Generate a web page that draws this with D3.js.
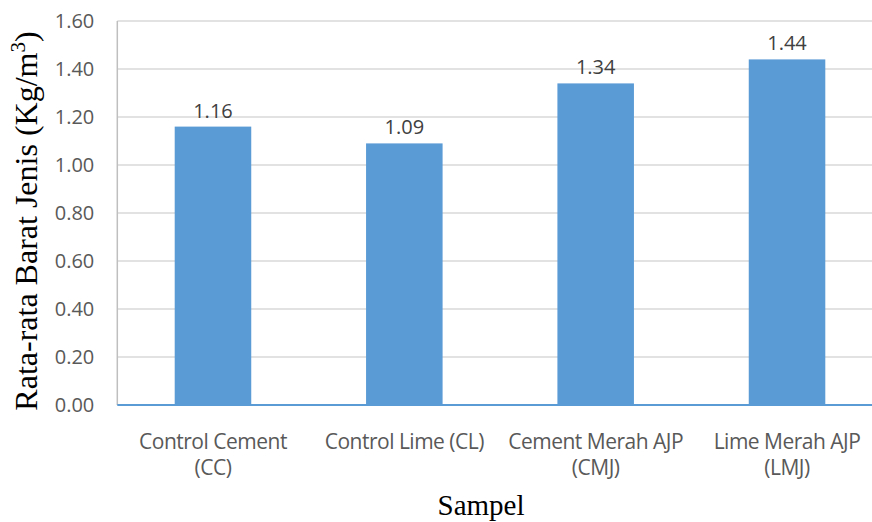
<!DOCTYPE html>
<html>
<head>
<meta charset="utf-8">
<script src="https://cdn.jsdelivr.net/npm/d3@7"></script>
<style>
  html, body { margin: 0; padding: 0; background: #fff; }
  svg { display: block; }
</style>
</head>
<body>
<svg id="chart" width="872" height="522"></svg>
<script>
// Sample groups, two-line axis labels, and average density values
const categories = ["CC", "CL", "CMJ", "LMJ"];
const categoryLabels = [
  ["Control Cement", "(CC)"],
  ["Control Lime (CL)"],
  ["Cement Merah AJP", "(CMJ)"],
  ["Lime Merah AJP", "(LMJ)"]
];
const values = [1.16, 1.09, 1.34, 1.44];
const yTicks = [0, 0.2, 0.4, 0.6, 0.8, 1.0, 1.2, 1.4, 1.6];

const svg = d3.select("#chart");
const plotLeft = 117.3, plotRight = 882.7, plotTop = 21, plotBottom = 405;

const x = d3.scaleBand()
  .domain(categories)
  .range([plotLeft, plotRight])
  .paddingInner(0.6)
  .paddingOuter(0.3);

const y = d3.scaleLinear().domain([0, 1.6]).range([plotBottom, plotTop]);

// Horizontal gridlines
svg.append("g")
  .selectAll("line")
  .data(yTicks.filter(d => d > 0))
  .join("line")
  .attr("x1", plotLeft).attr("x2", 872)
  .attr("y1", d => y(d)).attr("y2", d => y(d))
  .attr("stroke", "#d9d9d9")
  .attr("stroke-width", 1.5);

// Value axis (labels only, plus grey spine)
const yAxis = svg.append("g")
  .attr("transform", `translate(${plotLeft},0)`)
  .call(d3.axisLeft(y).tickValues(yTicks).tickFormat(d3.format(".2f")).tickSize(0).tickPadding(23));
yAxis.select(".domain").remove();
yAxis.selectAll("text")
  .attr("font-family", "'Open Sans', sans-serif")
  .attr("font-size", 20)
  .attr("fill", "#595959");

svg.append("line")
  .attr("x1", plotLeft).attr("x2", plotLeft)
  .attr("y1", plotTop).attr("y2", plotBottom)
  .attr("stroke", "#bfbfbf")
  .attr("stroke-width", 1.5);

// Bars
svg.append("g")
  .selectAll("rect")
  .data(values)
  .join("rect")
  .attr("x", (d, i) => x(categories[i]))
  .attr("y", d => y(d))
  .attr("width", x.bandwidth())
  .attr("height", d => y(0) - y(d))
  .attr("fill", "#5b9bd5");

// Category axis line
svg.append("line")
  .attr("x1", plotLeft).attr("x2", 872)
  .attr("y1", y(0)).attr("y2", y(0))
  .attr("stroke", "#5b9bd5")
  .attr("stroke-width", 2);

// Data labels
svg.append("g")
  .selectAll("text")
  .data(values)
  .join("text")
  .attr("x", (d, i) => x(categories[i]) + x.bandwidth() / 2)
  .attr("y", d => y(d) - 9)
  .attr("text-anchor", "middle")
  .attr("font-family", "'Open Sans', sans-serif")
  .attr("font-size", 20)
  .attr("fill", "#404040")
  .text(d => d3.format(".2f")(d));

// Category labels
const catG = svg.append("g")
  .selectAll("text")
  .data(categories)
  .join("text")
  .attr("x", d => x(d) + x.bandwidth() / 2)
  .attr("y", 449)
  .attr("text-anchor", "middle")
  .attr("font-family", "'Open Sans', sans-serif")
  .attr("font-size", 21)
  .attr("letter-spacing", -0.5)
  .attr("fill", "#595959");
catG.each(function(d, i) {
  const t = d3.select(this);
  categoryLabels[i].forEach((line, j) => {
    t.append("tspan")
      .attr("x", x(d) + x.bandwidth() / 2)
      .attr("dy", j === 0 ? 0 : 26)
      .text(line);
  });
});

// Axis titles
svg.append("text")
  .attr("x", 481)
  .attr("y", 515)
  .attr("text-anchor", "middle")
  .attr("font-family", "'Liberation Serif', 'Times New Roman', serif")
  .attr("font-size", 29)
  .attr("fill", "#000")
  .text("Sampel");

const yTitle = svg.append("text")
  .attr("transform", "translate(37,221) rotate(-90)")
  .attr("text-anchor", "middle")
  .attr("font-family", "'Liberation Serif', 'Times New Roman', serif")
  .attr("font-size", 32)
  .attr("fill", "#000");
yTitle.append("tspan").text("Rata-rata Barat Jenis (Kg/m");
yTitle.append("tspan").attr("font-size", 21).attr("dy", -12).text("3");
yTitle.append("tspan").attr("dy", 12).text(")");
</script>
</body>
</html>
